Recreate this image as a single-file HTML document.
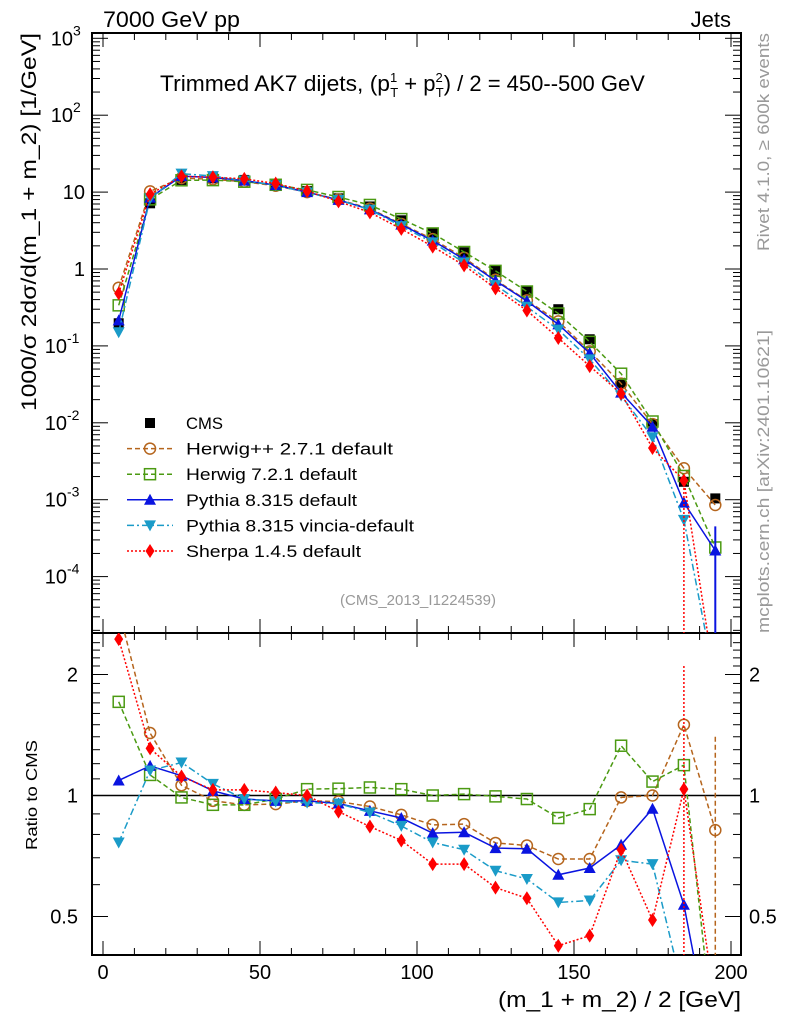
<!DOCTYPE html>
<html><head><meta charset="utf-8"><style>
html,body{margin:0;padding:0;background:#fff;}
svg{display:block;font-family:"Liberation Sans",sans-serif;}
</style></head><body>
<svg id="chart" width="786" height="1024" viewBox="0 0 786 1024" xmlns="http://www.w3.org/2000/svg"></svg>
<script>
const xCenters=[5,15,25,35,45,55,65,75,85,95,105,115,125,135,145,155,165,175,185,195];
const cmsValues=[0.197,7.15,14.4,15.1,14.4,12.7,10.3,8.3,6.5,4.3,2.9,1.65,0.95,0.52,0.30,0.122,0.0327,0.0096,0.00171,0.00104];
const ratioHerwigPP=[2.9,1.43,1.06,0.97,0.948,0.952,0.97,0.966,0.939,0.895,0.845,0.849,0.762,0.751,0.695,0.695,0.989,1.0,1.50,0.82];
const ratioHerwig7=[1.71,1.125,0.989,0.948,0.948,0.98,1.037,1.04,1.047,1.037,1.0,1.008,0.995,0.98,0.879,0.925,1.33,1.083,1.19,0.23];
const ratioPythia=[1.09,1.185,1.12,1.027,0.98,0.97,0.97,0.955,0.916,0.879,0.806,0.81,0.74,0.737,0.635,0.66,0.754,0.927,0.535,0.21];
const ratioVincia=[0.764,1.154,1.208,1.069,0.98,0.966,0.96,0.955,0.907,0.84,0.764,0.733,0.65,0.62,0.542,0.548,0.69,0.675,0.32,null];
const ratioSherpa=[2.45,1.31,1.115,1.033,1.033,1.017,1.0,0.912,0.837,0.773,0.675,0.675,0.59,0.555,0.423,0.448,0.733,0.49,1.037,null];
const yTickExps=[-4,-3,-2,-1,0,1,2,3];
const xTickLabels=[0,50,100,150,200];
const ratioTickLabels=[0.5,1,2];

const NS="http://www.w3.org/2000/svg";
const svg=document.getElementById('chart');
const L=92,R=741,T=33,MB=633,RB=955;
function X(v){return 103+v*3.14;}
function Ymain(v){return 269-Math.log10(v)*76.9;}
function Yr(v){return 795.5-Math.log2(v)*121;}
function el(tag,attrs,parent){const e=document.createElementNS(NS,tag);for(const k in attrs)e.setAttribute(k,attrs[k]);(parent||svg).appendChild(e);return e;}
function txt(s,attrs,parent){const e=el('text',attrs,parent);e.textContent=s;return e;}

const defs=el('defs',{});
const c1=el('clipPath',{id:'cm'},defs);el('rect',{x:L,y:T,width:R-L,height:MB-T},c1);
const c2=el('clipPath',{id:'cr'},defs);el('rect',{x:L,y:MB,width:R-L,height:RB-MB},c2);

const fm=el('rect',{x:L,y:T,width:R-L,height:MB-T,fill:'none',stroke:'#000','stroke-width':2});


const fr=el('rect',{x:L,y:MB,width:R-L,height:RB-MB,fill:'none',stroke:'#000','stroke-width':2});



for(let v=0;v<=200;v+=10){
  const major=v%50===0;const len=major?14:7;const x=X(v);
  [T,MB].forEach(y0=>{el('line',{x1:x,x2:x,y1:y0,y2:y0+len,stroke:'#000','stroke-width':1});});
  [MB,RB].forEach(y0=>{el('line',{x1:x,x2:x,y1:y0,y2:y0-len,stroke:'#000','stroke-width':1});});
}
xTickLabels.forEach(v=>{const t=txt(String(v),{x:X(v),y:979,'font-size':20,'text-anchor':'middle'});

});

for(let e=-5;e<=3;e++){
  for(let m=1;m<10;m++){
    const v=m*Math.pow(10,e);const y=Ymain(v);
    if(y<T||y>MB)continue;const len=m===1?16:8;
    el('line',{x1:L,x2:L+len,y1:y,y2:y,stroke:'#000'});
    el('line',{x1:R,x2:R-len,y1:y,y2:y,stroke:'#000'});
  }
}
yTickExps.forEach(e=>{
  const y=Ymain(Math.pow(10,e));let t;
  if(e===0){t=txt('1',{x:85,y:y+7,'font-size':20,'text-anchor':'end'});}
  else if(e===1){t=txt('10',{x:85,y:y+7,'font-size':20,'text-anchor':'end'});}
  else{t=txt('10',{x:e<0?67:73,y:y+7,'font-size':20,'text-anchor':'end'});
    txt(String(e),{x:e<0?67:73,y:y-3,'font-size':14,'text-anchor':'start'});}
  
  
});
for(let v=0.4;v<=2.5;v+=0.1){
  const y=Yr(v);if(y<MB||y>RB)continue;
  const major=Math.abs(v-0.5)<1e-6||Math.abs(v-1)<1e-6||Math.abs(v-2)<1e-6;const len=major?16:8;
  el('line',{x1:L,x2:L+len,y1:y,y2:y,stroke:'#000'});
  el('line',{x1:R,x2:R-len,y1:y,y2:y,stroke:'#000'});
}
ratioTickLabels.forEach(v=>{const y=Yr(v);
  const a=txt(String(v),{x:78,y:y+7,'font-size':20,'text-anchor':'end'});
  
  
  const b=txt(String(v),{x:749,y:y+7,'font-size':20,'text-anchor':'start'});
  
  });
el('line',{x1:L,x2:R,y1:Yr(1),y2:Yr(1),stroke:'#000','stroke-width':1.5});

const series=[
 {name:'Herwig++ 2.7.1 default',key:'herwigpp',r:ratioHerwigPP,color:'#b5651d',dash:'5,3',marker:'circle',tl:207},
 {name:'Herwig 7.2.1 default',key:'herwig7',r:ratioHerwig7,color:'#4b9a12',dash:'5,3',marker:'square',tl:171},
 {name:'Pythia 8.315 default',key:'pythia',r:ratioPythia,color:'#0a14e0',dash:'',marker:'tri',tl:171},
 {name:'Pythia 8.315 vincia-default',key:'vincia',r:ratioVincia,color:'#1a9bc8',dash:'7,3,2,3',marker:'tridown',tl:228},
 {name:'Sherpa 1.4.5 default',key:'sherpa',r:ratioSherpa,color:'#ff0000',dash:'2,2',marker:'diamond',tl:175}
];
function marker(type,x,y,color,g){
  if(type==='circle')return el('circle',{cx:x,cy:y,r:5.5,fill:'none',stroke:color,'stroke-width':1.5},g);
  if(type==='square')return el('rect',{x:x-5.5,y:y-5.5,width:11,height:11,fill:'none',stroke:color,'stroke-width':1.5},g);
  if(type==='fsquare')return el('rect',{x:x-5,y:y-5,width:10,height:10,fill:color},g);
  if(type==='tri')return el('polygon',{points:`${x},${y-6} ${x-6},${y+5} ${x+6},${y+5}`,fill:color},g);
  if(type==='tridown')return el('polygon',{points:`${x},${y+6} ${x-6},${y-5} ${x+6},${y-5}`,fill:color},g);
  if(type==='diamond')return el('polygon',{points:`${x},${y-7} ${x-4.5},${y} ${x},${y+7} ${x+4.5},${y}`,fill:color},g);
}
function drawSeries(s,mainPanel){
  const g=el('g',{'clip-path':mainPanel?'url(#cm)':'url(#cr)'});
  
  
  const pts=[];
  xCenters.forEach((xv,i)=>{
    const rv=s.r[i];
    let y;
    if(rv===null){y=mainPanel?MB+50:RB+50;}
    else y=mainPanel?Ymain(cmsValues[i]*rv):Yr(rv);
    pts.push([X(xv),y,rv!==null]);
  });
  const attrs={points:pts.map(p=>p[0]+','+p[1]).join(' '),fill:'none',stroke:s.color,'stroke-width':1.5};
  if(s.dash)attrs['stroke-dasharray']=s.dash;
  el('polyline',attrs,g);
  pts.forEach(p=>{if(p[2]){const m=marker(s.marker,p[0],p[1],s.color,g);
    
    }});
}
(function(){
  const g=el('g',{'clip-path':'url(#cm)'});
  
  
  xCenters.forEach((xv,i)=>{const m=marker('fsquare',X(xv),Ymain(cmsValues[i]),'#000',g);
    
    });
})();
series.forEach(s=>drawSeries(s,true));
series.forEach(s=>drawSeries(s,false));
const eb=el('g',{});
el('line',{x1:X(185),x2:X(185),y1:Ymain(0.0016),y2:MB,stroke:'#ff0000','stroke-dasharray':'2,2','stroke-width':1.5},eb);
el('line',{x1:X(195),x2:X(195),y1:Ymain(0.00045),y2:MB,stroke:'#0a14e0','stroke-width':2},eb);
el('line',{x1:X(185),x2:X(185),y1:Yr(2.1),y2:RB,stroke:'#ff0000','stroke-dasharray':'2,2','stroke-width':1.5},eb);
el('line',{x1:X(195),x2:X(195),y1:Yr(1.4),y2:RB,stroke:'#b5651d','stroke-dasharray':'5,3','stroke-width':1.5},eb);

const legend=el('g',{});


const legItems=[{name:'CMS',marker:'fsquare',color:'#000',dash:null,tl:37}].concat(series);
legItems.forEach((s,i)=>{
  const y=423+i*25.6;
  const g=el('g',{},legend);
  
  
  if(s.dash!==null){const a={x1:127,x2:173,y1:y,y2:y,stroke:s.color,'stroke-width':1.5};if(s.dash)a['stroke-dasharray']=s.dash;el('line',a,g);}
  marker(s.marker,150,y,s.color,g);
  txt(s.name,{x:186,y:y+6,'font-size':17,textLength:s.tl,lengthAdjust:'spacingAndGlyphs'},g);
});

const tl=txt('7000 GeV pp',{x:103,y:27,'font-size':22,textLength:137,lengthAdjust:'spacingAndGlyphs'});

const tr=txt('Jets',{x:731,y:27,'font-size':22,'text-anchor':'end'});

const title=el('text',{x:160,y:91,'font-size':22,'text-anchor':'start'});

title.innerHTML='<tspan textLength="230" lengthAdjust="spacingAndGlyphs">Trimmed AK7 dijets, (p</tspan><tspan dy="-9" font-size="13">1</tspan><tspan dx="-7" dy="15" font-size="13">T</tspan><tspan dy="-6"> + p</tspan><tspan dy="-9" font-size="13">2</tspan><tspan dx="-7" dy="15" font-size="13">T</tspan><tspan dy="-6">) / 2 = 450--500 GeV</tspan>';
const ref=txt('(CMS_2013_I1224539)',{x:418,y:605,'font-size':15,fill:'#999','text-anchor':'middle'});

const yl=el('text',{transform:'translate(36,33) rotate(-90)','font-size':21,'text-anchor':'end',textLength:378,lengthAdjust:'spacingAndGlyphs'});

yl.textContent='1000/σ   2dσ/d(m_1 + m_2) [1/GeV]';
const rl=el('text',{transform:'translate(37,795) rotate(-90)','font-size':16,'text-anchor':'middle',textLength:110,lengthAdjust:'spacingAndGlyphs'});

rl.textContent='Ratio to CMS';
const xl=txt('(m_1 + m_2) / 2 [GeV]',{x:741,y:1007,'font-size':22,'text-anchor':'end',textLength:243,lengthAdjust:'spacingAndGlyphs'});

const rv=el('text',{transform:'translate(769,33) rotate(-90)','font-size':17,fill:'#999','text-anchor':'end',textLength:218,lengthAdjust:'spacingAndGlyphs'});

rv.textContent='Rivet 4.1.0, ≥ 600k events';
const mc=el('text',{transform:'translate(769,633) rotate(-90)','font-size':17,fill:'#999','text-anchor':'start',textLength:303,lengthAdjust:'spacingAndGlyphs'});

mc.textContent='mcplots.cern.ch [arXiv:2401.10621]';
</script>
</body></html>
